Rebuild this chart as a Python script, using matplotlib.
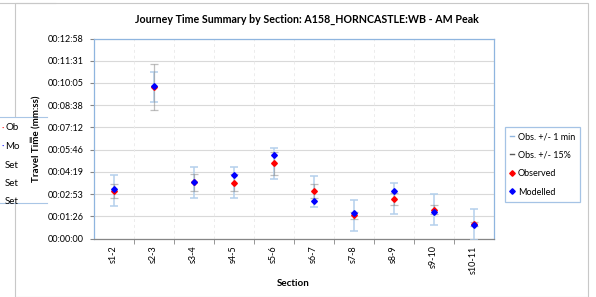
import matplotlib
matplotlib.use("Agg")
import matplotlib.pyplot as plt
from matplotlib.lines import Line2D
from matplotlib.patches import Rectangle
import numpy as np

plt.rcParams['font.family'] = ['Lato', 'DejaVu Sans']

# data (seconds)
sections = ['s1-2', 's2-3', 's3-4', 's4-5', 's5-6', 's6-7', 's7-8', 's8-9', 's9-10', 's10-11']
observed = [185, 589, 218, 217, 292, 183, 91, 154, 112, 56]
modelled = [192, 594, 220, 248, 325, 146, 99, 186, 103, 52]
err_1min = 60
err_pct = 0.15
ytick_step = 86.4  # 0.001 day
n_yticks = 10

W, H = 596, 297
fig = plt.figure(figsize=(W / 100, H / 100), dpi=100)

# chart area border and bits of a chart behind it
fig.patches.append(Rectangle((15 / W, 0), 573 / W, 1 - 2.5 / H, transform=fig.transFigure,
                             fill=False, edgecolor='#c8c8c8', lw=0.8))
fig.lines.append(Line2D([0, 55 / W], [1 - 2.5 / H, 1 - 2.5 / H], transform=fig.transFigure,
                        color='#c8c8c8', lw=0.8))
fig.patches.append(Rectangle((0, 1 - 203 / H), 47 / W, 86 / H, transform=fig.transFigure,
                             facecolor='white', edgecolor='none', zorder=2))
for yy in [117, 203]:
    fig.lines.append(Line2D([0, 47 / W], [1 - yy / H, 1 - yy / H], transform=fig.transFigure,
                            color='#a9c6e6', lw=0.8, zorder=3))
for i, t in enumerate(['Ob', 'Mo', 'Set', 'Set', 'Set']):
    fig.text(5 / W, 1 - (128 + i * 18.5) / H, t, fontsize=7, va='center', ha='left', zorder=4)
fig.text(2 / W, 1 - 128 / H, '·', fontsize=6.5, color='red', va='center', zorder=4)
fig.text(2 / W, 1 - 146.5 / H, '·', fontsize=6.5, color='blue', va='center', zorder=4)
fig.text(28 / W, 1 - 140 / H, 'Il', fontsize=6, va='center', zorder=4)

ax = fig.add_axes([93.5 / W, (H - 238.5) / H, 400 / W, 200 / H])

x = np.arange(len(sections))
obs = np.array(observed, dtype=float)
mod = np.array(modelled, dtype=float)

ax.errorbar(x, obs, yerr=err_1min, fmt='none', ecolor='#b4d0ec', elinewidth=1.1,
            capsize=3, capthick=1.1, zorder=3)
ax.errorbar(x, obs, yerr=obs * err_pct, fmt='none', ecolor='#8c8c8c', elinewidth=0.9,
            capsize=3, capthick=0.9, alpha=0.55, zorder=4)
ax.plot(x, obs, 'D', color='red', markersize=2.9, zorder=5)
ax.plot(x, mod, 'D', color='blue', markersize=2.9, zorder=6)

ax.set_xlim(-0.5, len(sections) - 0.5)
ax.set_ylim(0, ytick_step * (n_yticks - 1))

yt = [ytick_step * k for k in range(n_yticks)]


def fmt(s):
    s = int(round(s))
    return '%02d:%02d:%02d' % (s // 3600, (s % 3600) // 60, s % 60)


ax.set_yticks(yt)
ax.set_yticklabels([fmt(v) for v in yt], fontsize=6.5)
ax.yaxis.grid(True, color='#d9d9d9', lw=0.8)
ax.set_xticks(x)
ax.set_xticklabels(sections, rotation=90, fontsize=6.5)
ax.tick_params(axis='x', length=0, pad=5)
ax.tick_params(axis='y', length=3, color='#868686', pad=4)
bounds = np.arange(0.5, len(sections) - 0.5, 1)
ax.set_xticks(bounds, minor=True)
ax.tick_params(axis='x', which='minor', length=3.5, color='#868686')
for b in bounds:
    ax.axvline(b, color='#ececec', lw=0.7, ls=(0, (3, 3)), zorder=1)
ax.set_axisbelow(True)

for s in ['top', 'right', 'left']:
    ax.spines[s].set_color('#8fb5df')
ax.spines['bottom'].set_color('#868686')
for s in ax.spines.values():
    s.set_linewidth(0.9)

fig.text(307 / W, 1 - 19 / H, 'Journey Time Summary by Section: A158_HORNCASTLE:WB - AM Peak',
         fontsize=7.7, fontweight='bold', ha='center', va='center')
fig.text(37 / W, 1 - 139 / H, 'Travel Time (mm:ss)', fontsize=7, fontweight='bold',
         rotation=90, ha='center', va='center')
fig.text(293 / W, 1 - 283 / H, 'Section', fontsize=7, fontweight='bold', ha='center', va='center')

handles = [
    Line2D([], [], color='#8fb5df', lw=1),
    Line2D([], [], color='#595959', lw=1),
    Line2D([], [], color='red', marker='D', ls='none', markersize=2.8),
    Line2D([], [], color='blue', marker='D', ls='none', markersize=2.8),
]
labels = ['Obs. +/- 1 min', 'Obs. +/- 15%', 'Observed', 'Modelled']
leg = ax.legend(handles, labels, loc='upper left', bbox_to_anchor=(505 / W, 1 - 126.7 / H),
                bbox_transform=fig.transFigure, fontsize=6.5, frameon=True, fancybox=False,
                handlelength=0.4, handletextpad=0.4, labelspacing=1.05, borderpad=0.6,
                borderaxespad=0)
leg.get_frame().set_edgecolor('#8fb5df')
leg.get_frame().set_linewidth(0.9)

fig.savefig('out.png', dpi=100)
